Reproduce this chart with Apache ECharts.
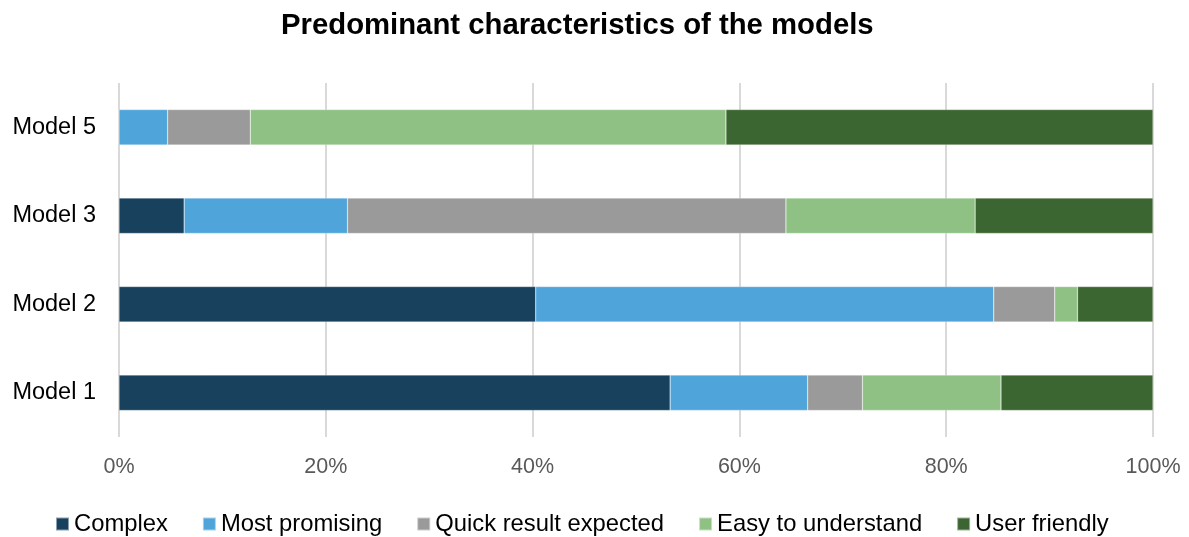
<!DOCTYPE html>
<html>
<head>
<meta charset="utf-8">
<style>
  html, body { margin: 0; padding: 0; background: #fff; }
  #chart { width: 1189px; height: 537px; }
</style>
<script src="https://cdn.jsdelivr.net/npm/echarts@6/dist/echarts.min.js"></script>
</head>
<body>
<div id="chart"></div>
<script>
// categories, bottom to top
var models = ['Model 1', 'Model 2', 'Model 3', 'Model 5'];
var seriesNames = ['Complex', 'Most promising', 'Quick result expected', 'Easy to understand', 'User friendly'];
// share (%) per model, same order as models
var complex = [53.3, 40.3, 6.3, 0];
var mostPromising = [13.3, 44.3, 15.8, 4.7];
var quickResult = [5.3, 5.9, 42.4, 8.0];
var easyToUnderstand = [13.4, 2.2, 18.3, 46.0];
var userFriendly = [14.7, 7.3, 17.2, 41.3];
var colors = ['#17415c', '#4fa5da', '#9a9a9a', '#8fc185', '#3c6631'];

var values = [complex, mostPromising, quickResult, easyToUnderstand, userFriendly];

var chart = echarts.init(document.getElementById('chart'));
chart.setOption({
  animation: false,
  title: {
    text: 'Predominant characteristics of the models',
    left: 276,
    top: 6,
    textStyle: {
      fontFamily: 'Liberation Sans',
      fontSize: 29.3,
      fontWeight: 'bold',
      color: '#000'
    }
  },
  legend: {
    top: 507,
    left: 50,
    itemWidth: 13,
    itemHeight: 13,
    itemGap: 34,
    icon: 'rect',
    textStyle: {
      fontFamily: 'Liberation Sans',
      fontSize: 23.8,
      color: '#000'
    },
    data: seriesNames
  },
  grid: {
    left: 119,
    right: 36,
    top: 83,
    bottom: 100
  },
  xAxis: {
    type: 'value',
    min: 0,
    max: 100,
    interval: 20,
    axisLine: { show: false },
    axisTick: { show: false },
    axisLabel: {
      formatter: '{value}%',
      fontFamily: 'Liberation Sans',
      fontSize: 21.5,
      color: '#595959',
      margin: 19
    },
    splitLine: {
      show: true,
      lineStyle: { color: '#d9d9d9', width: 2 }
    }
  },
  yAxis: {
    type: 'category',
    data: models,
    axisLine: { show: false },
    axisTick: { show: false },
    axisLabel: {
      fontFamily: 'Liberation Sans',
      fontSize: 23.5,
      color: '#000',
      margin: 23
    }
  },
  series: seriesNames.map(function (name, i) {
    return {
      name: name,
      type: 'bar',
      stack: 'total',
      barWidth: '40%',
      itemStyle: {
        color: colors[i],
        borderColor: 'rgba(255,255,255,0.5)',
        borderWidth: 0.5
      },
      data: values[i]
    };
  })
});
</script>
</body>
</html>
